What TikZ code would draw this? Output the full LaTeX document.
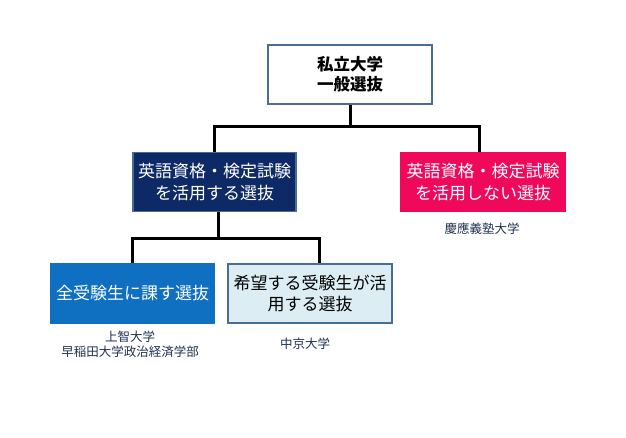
\documentclass[tikz,border=0pt]{standalone}
\usepackage{fontspec}
\newfontfamily\jp{Noto Sans CJK JP}
\usetikzlibrary{positioning,calc}
\definecolor{frameblue}{HTML}{4A6D94}
\definecolor{navybox}{HTML}{0E2A66}
\definecolor{redbox}{HTML}{F0095A}
\definecolor{bluebox}{HTML}{0F6FC0}
\definecolor{palebox}{HTML}{DCEEF4}
\definecolor{uni}{HTML}{1F3050}

\tikzset{
  box/.style={draw, line width=1.2pt, minimum height=59pt, align=center, inner sep=1pt, font=\jp\fontsize{17}{21.5}\selectfont},
  conn/.style={line width=3pt, black},
  univ/.style={align=center, text=uni, font=\jp\fontsize{12.5}{15}\selectfont}
}

\begin{document}
\begin{tikzpicture}[x=1pt,y=-1pt]
  \useasboundingbox (0,0) rectangle (626,437);
  \node[box, draw=frameblue, fill=white, minimum width=164pt, font=\jp\bfseries\fontsize{16.5}{20}\selectfont] (top) at (350,74.5) {私立大学\\一般選抜};
  \node[box, draw=frameblue, fill=navybox, text=white, minimum width=163pt] (use) at (214.5,182) {英語資格・検定試験\\を活用する選抜};
  \node[box, draw=redbox, fill=redbox, text=white, minimum width=164pt] (nouse) at (483,182) {英語資格・検定試験\\を活用しない選抜};
  \node[box, draw=bluebox, fill=bluebox, text=white, minimum width=163pt] (all) at (132.5,293.5) {全受験生に課す選抜};
  \node[box, draw=frameblue, fill=palebox, text=black, minimum width=164pt] (wish) at (310,293.5) {希望する受験生が活\\用する選抜};

  \node[univ] (keio) at (482,229) {慶應義塾大学};
  \node[univ] (sophia) at (130,344.5) {上智大学\\早稲田大学政治経済学部};
  \node[univ] (chukyo) at (305,344) {中京大学};

  \coordinate (j1) at (350,126);
  \coordinate (j2) at (218,238);
  \draw[conn] (top.south) -- (j1);
  \draw[conn] ([xshift=-0.5pt]use.north) |- (j1) -| ([xshift=-4pt]nouse.north);
  \draw[conn] ([xshift=3.5pt]use.south) -- (j2);
  \draw[conn] (all.north) |- (j2) -| ([xshift=9pt]wish.north);
\end{tikzpicture}
\end{document}
